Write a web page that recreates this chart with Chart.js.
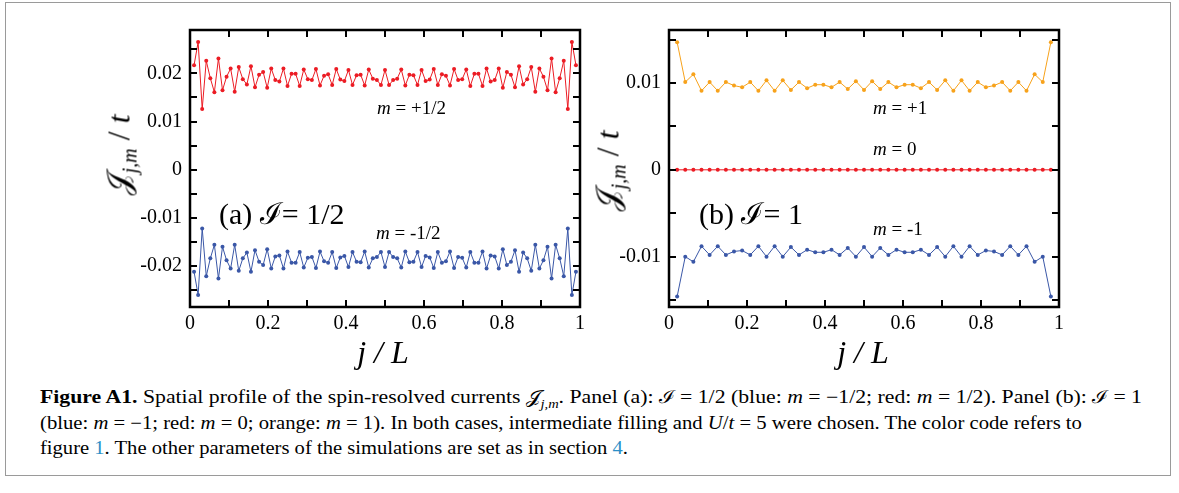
<!DOCTYPE html>
<html>
<head>
<meta charset="utf-8">
<script src="https://cdn.jsdelivr.net/npm/chart.js@4.4.0/dist/chart.umd.min.js"></script>
<style>
  body { margin: 0; background: #fff; }
  #page { position: relative; width: 1179px; height: 493px; overflow: hidden; font-family: 'Liberation Serif', 'Times New Roman', serif; color: #000; }
  #frame { position: absolute; left: 5px; top: 2px; width: 1166px; height: 474px; border: 1px solid #9a9a9a; box-sizing: border-box; }
  canvas { position: absolute; }
  .lbl { position: absolute; white-space: nowrap; transform: translateY(-50%); font-family: 'Liberation Serif', serif; }
  .ytitle { position: absolute; white-space: nowrap; font-size: 32px; transform: translate(-50%, -50%) rotate(-90deg); }
  .ytitle sub { font-size: 20px; font-style: italic; vertical-align: -7px; }
  .xtitle { position: absolute; white-space: nowrap; font-size: 32px; font-style: italic; transform: translate(-50%, -50%); }
  .cap { position: absolute; left: 40px; white-space: nowrap; font-size: 18px; transform-origin: 0 50%; }
  .cap sub { font-size: 12px; font-style: italic; }
  .link { color: #2a8fc8; }
</style>
</head>
<body>
<div id="page">
  <div id="frame"></div>
  <canvas id="chartA" width="480" height="330" style="left:110px; top:10px;"></canvas>
  <canvas id="chartB" width="480" height="330" style="left:589px; top:10px;"></canvas>

  <div class="ytitle" style="left:121px; top:155px;">𝒥<sub>j,m</sub> / <i>t</i></div>
  <div class="ytitle" style="left:610px; top:171px;">𝒥<sub>j,m</sub> / <i>t</i></div>
  <div class="xtitle" style="left:383px; top:352px;">j / L</div>
  <div class="xtitle" style="left:863px; top:352px;">j / L</div>

  <div class="lbl" style="left:377px; top:108px; font-size:19px;"><i>m</i> = +1/2</div>
  <div class="lbl" style="left:376px; top:233px; font-size:19px;"><i>m</i> = -1/2</div>
  <div class="lbl" style="left:219px; top:212px; font-size:30px;">(a) ℐ= 1/2</div>
  <div class="lbl" style="left:873px; top:108px; font-size:19px;"><i>m</i> = +1</div>
  <div class="lbl" style="left:873px; top:149px; font-size:19px;"><i>m</i> = 0</div>
  <div class="lbl" style="left:873px; top:229px; font-size:19px;"><i>m</i> = -1</div>
  <div class="lbl" style="left:699px; top:212px; font-size:30px;">(b) ℐ= 1</div>

  <div class="cap" id="cap1" style="top:398px;"><b>Figure A1.</b> Spatial profile of the spin-resolved currents 𝒥<sub>j,m</sub>. Panel (a): ℐ = 1/2 (blue: <i>m</i> = −1/2; red: <i>m</i> = 1/2). Panel (b): ℐ = 1</div>
  <div class="cap" id="cap2" style="top:423px;">(blue: <i>m</i> = −1; red: <i>m</i> = 0; orange: <i>m</i> = 1). In both cases, intermediate filling and <i>U</i>/<i>t</i> = 5 were chosen. The color code refers to</div>
  <div class="cap" id="cap3" style="top:448px;">figure <span class="link">1</span>. The other parameters of the simulations are set as in section <span class="link">4</span>.</div>
</div>

<script>
// panel (a): I = 1/2, sites j = 1..95, L = 96
const L_A = 96;
const RED_A = [
  0.0217, 0.0265, 0.0126, 0.0226, 0.0190, 0.0161, 0.0231, 0.0165, 0.0193, 0.0210,
  0.0162, 0.0213, 0.0188, 0.0177, 0.0215, 0.0171, 0.0197, 0.0203, 0.0170, 0.0210,
  0.0186, 0.0183, 0.0210, 0.0174, 0.0199, 0.0199, 0.0174, 0.0208, 0.0188, 0.0186,
  0.0209, 0.0175, 0.0195, 0.0198, 0.0176, 0.0209, 0.0187, 0.0184, 0.0207, 0.0176,
  0.0196, 0.0197, 0.0175, 0.0208, 0.0189, 0.0186, 0.0176, 0.0207,
  0.0176, 0.0186, 0.0189, 0.0208, 0.0175, 0.0197, 0.0196, 0.0176, 0.0207, 0.0184,
  0.0187, 0.0209, 0.0176, 0.0198, 0.0195, 0.0175, 0.0209, 0.0186, 0.0188, 0.0208,
  0.0174, 0.0199, 0.0199, 0.0174, 0.0210, 0.0183, 0.0186, 0.0210, 0.0170, 0.0203,
  0.0197, 0.0171, 0.0215, 0.0177, 0.0188, 0.0213, 0.0162, 0.0210, 0.0193, 0.0165,
  0.0231, 0.0161, 0.0190, 0.0226, 0.0126, 0.0265, 0.0217
];
const BLUE_A = [
  -0.0212, -0.0260, -0.0122, -0.0221, -0.0184, -0.0156, -0.0226, -0.0160, -0.0188, -0.0205,
  -0.0156, -0.0210, -0.0184, -0.0172, -0.0212, -0.0167, -0.0191, -0.0198, -0.0165, -0.0205,
  -0.0180, -0.0178, -0.0205, -0.0170, -0.0193, -0.0193, -0.0171, -0.0203, -0.0183, -0.0181,
  -0.0204, -0.0170, -0.0190, -0.0193, -0.0171, -0.0204, -0.0182, -0.0179, -0.0202, -0.0171,
  -0.0191, -0.0192, -0.0170, -0.0203, -0.0184, -0.0181, -0.0171, -0.0202,
  -0.0171, -0.0181, -0.0184, -0.0203, -0.0170, -0.0192, -0.0191, -0.0171, -0.0202, -0.0179,
  -0.0182, -0.0204, -0.0171, -0.0193, -0.0190, -0.0170, -0.0204, -0.0181, -0.0183, -0.0203,
  -0.0171, -0.0193, -0.0193, -0.0170, -0.0205, -0.0178, -0.0180, -0.0205, -0.0165, -0.0198,
  -0.0191, -0.0167, -0.0212, -0.0172, -0.0184, -0.0210, -0.0156, -0.0205, -0.0188, -0.0160,
  -0.0226, -0.0156, -0.0184, -0.0221, -0.0122, -0.0260, -0.0212
];

// panel (b): I = 1, sites j = 1..47, L = 48
const L_B = 48;
const ORANGE_B = [
  0.0147, 0.0101, 0.0110, 0.0091, 0.0101, 0.0091, 0.0101, 0.0097, 0.0095, 0.0101,
  0.0091, 0.0103, 0.0091, 0.0103, 0.0092, 0.0101, 0.0094, 0.0098, 0.0098, 0.0095,
  0.0101, 0.0093, 0.0102, 0.0092, 0.0102, 0.0093, 0.0101, 0.0095, 0.0098, 0.0098,
  0.0094, 0.0101, 0.0092, 0.0103, 0.0091, 0.0103, 0.0091, 0.0101, 0.0095, 0.0097,
  0.0101, 0.0091, 0.0101, 0.0091, 0.0110, 0.0101, 0.0147
];
const RED_B = [
  0, 0, 0, 0, 0, 0, 0, 0, 0, 0,
  0, 0, 0, 0, 0, 0, 0, 0, 0, 0,
  0, 0, 0, 0, 0, 0, 0, 0, 0, 0,
  0, 0, 0, 0, 0, 0, 0, 0, 0, 0,
  0, 0, 0, 0, 0, 0, 0
];
const BLUE_B = [
  -0.0146, -0.0100, -0.0106, -0.0088, -0.0098, -0.0088, -0.0098, -0.0094, -0.0093, -0.0098,
  -0.0088, -0.0100, -0.0088, -0.0100, -0.0089, -0.0098, -0.0092, -0.0095, -0.0095, -0.0092,
  -0.0098, -0.0090, -0.0100, -0.0089, -0.0100, -0.0090, -0.0098, -0.0092, -0.0095, -0.0095,
  -0.0092, -0.0098, -0.0089, -0.0100, -0.0088, -0.0100, -0.0088, -0.0098, -0.0093, -0.0094,
  -0.0098, -0.0088, -0.0098, -0.0088, -0.0106, -0.0100, -0.0146
];

// ticks
const X_TICKS = [0, 0.2, 0.4, 0.6, 0.8, 1];
const X_TICK_LABELS = ['0', '0.2', '0.4', '0.6', '0.8', '1'];
const X_MINOR = [0.1, 0.2, 0.3, 0.4, 0.5, 0.6, 0.7, 0.8, 0.9];
const Y_TICKS_A = [-0.02, -0.01, 0, 0.01, 0.02];
const Y_TICK_LABELS_A = ['-0.02', '-0.01', '0', '0.01', '0.02'];
const Y_MINOR_A = [-0.025, -0.02, -0.015, -0.01, -0.005, 0, 0.005, 0.01, 0.015, 0.02, 0.025];
const Y_TICKS_B = [-0.01, 0, 0.01];
const Y_TICK_LABELS_B = ['-0.01', '0', '0.01'];
const Y_MINOR_B = [-0.015, -0.01, -0.005, 0, 0.005, 0.01, 0.015];

const RED = '#ec1c24';
const BLUE = '#3a57a7';
const ORANGE = '#f7a21b';
const FONT = "'Liberation Serif', 'Times New Roman', serif";

function toPoints(values, L) {
  return values.map((v, i) => ({ x: (i + 1) / L, y: v }));
}

function series(values, L, color) {
  return {
    data: toPoints(values, L),
    showLine: true,
    borderColor: color,
    backgroundColor: color,
    borderWidth: 1,
    pointRadius: 2,
    pointBorderWidth: 0,
    pointBackgroundColor: color
  };
}

// inward ticks on all four sides plus a heavy box
const frameTicks = {
  id: 'frameTicks',
  afterDatasetsDraw(chart, args, opts) {
    const ctx = chart.ctx;
    const a = chart.chartArea;
    const x = chart.scales.x, y = chart.scales.y;
    ctx.save();
    ctx.strokeStyle = '#000';
    ctx.lineWidth = 2;
    ctx.beginPath();
    X_MINOR.forEach(v => {
      const px = Math.round(x.getPixelForValue(v));
      ctx.moveTo(px, a.bottom); ctx.lineTo(px, a.bottom - 7);
      ctx.moveTo(px, a.top); ctx.lineTo(px, a.top + 7);
    });
    opts.yMinor.forEach(v => {
      const py = Math.round(y.getPixelForValue(v));
      ctx.moveTo(a.left, py); ctx.lineTo(a.left + 7, py);
      ctx.moveTo(a.right, py); ctx.lineTo(a.right - 7, py);
    });
    ctx.stroke();
    ctx.lineWidth = 2.5;
    ctx.strokeRect(a.left, a.top, a.right - a.left, a.bottom - a.top);
    ctx.restore();
  }
};

function makeChart(id, datasets, yMin, yMax, yTicks, yLabels, yMinor) {
  return new Chart(document.getElementById(id), {
    type: 'scatter',
    data: { datasets: datasets },
    options: {
      responsive: false,
      animation: false,
      devicePixelRatio: 1,
      layout: { padding: { top: 0, right: 10, left: 0, bottom: 0 } },
      plugins: {
        legend: { display: false },
        tooltip: { enabled: false },
        frameTicks: { yMinor: yMinor }
      },
      scales: {
        x: {
          type: 'linear', min: 0, max: 1,
          grid: { display: false, drawTicks: false },
          border: { display: false },
          afterBuildTicks: s => { s.ticks = X_TICKS.map(v => ({ value: v })); },
          afterFit: s => { s.height = 33; },
          ticks: {
            callback: (v, i) => X_TICK_LABELS[i],
            font: { family: FONT, size: 20 }, color: '#000',
            padding: 5, maxRotation: 0, autoSkip: false
          }
        },
        y: {
          type: 'linear', min: yMin, max: yMax,
          grid: { display: false, drawTicks: false },
          border: { display: false },
          afterBuildTicks: s => { s.ticks = yTicks.map(v => ({ value: v })); },
          afterFit: s => { s.width = 80; },
          ticks: {
            callback: (v, i) => yLabels[i],
            font: { family: FONT, size: 20 }, color: '#000',
            padding: 8, autoSkip: false
          }
        }
      }
    },
    plugins: [frameTicks]
  });
}

makeChart('chartA',
  [series(RED_A, L_A, RED), series(BLUE_A, L_A, BLUE)],
  -0.0285, 0.029, Y_TICKS_A, Y_TICK_LABELS_A, Y_MINOR_A);

makeChart('chartB',
  [series(ORANGE_B, L_B, ORANGE), series(RED_B, L_B, RED), series(BLUE_B, L_B, BLUE)],
  -0.0158, 0.0161, Y_TICKS_B, Y_TICK_LABELS_B, Y_MINOR_B);

// squeeze the caption lines to the widths of the original typesetting
const CAP_WIDTHS = { cap1: 1102, cap2: 1042, cap3: 588 };
Object.keys(CAP_WIDTHS).forEach(id => {
  const el = document.getElementById(id);
  const w = el.getBoundingClientRect().width;
  el.style.transform = 'translateY(-50%) scaleX(' + (CAP_WIDTHS[id] / w).toFixed(4) + ')';
});
</script>
</body>
</html>
